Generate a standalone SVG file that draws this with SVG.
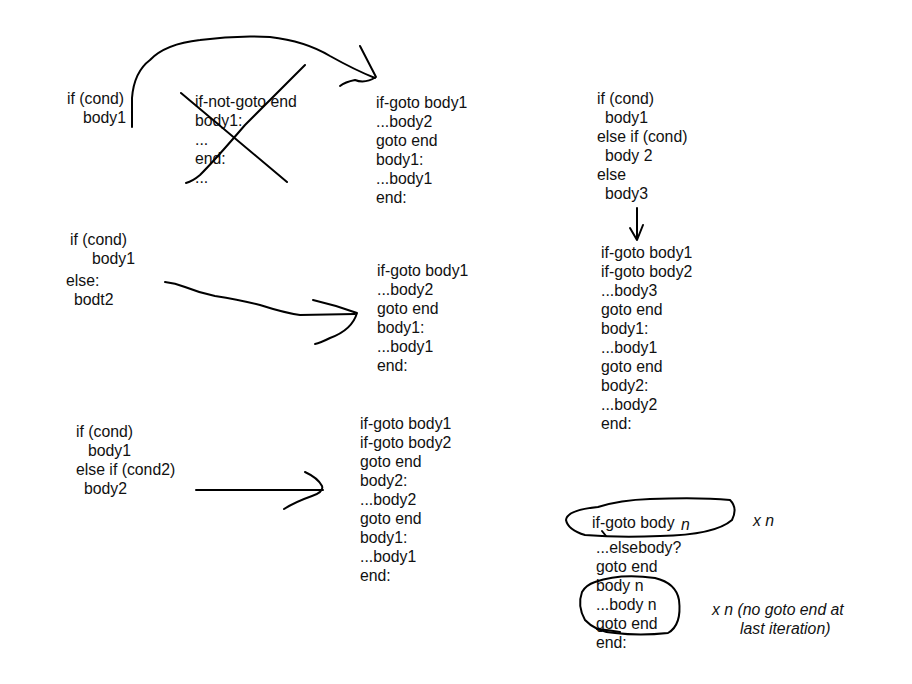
<svg xmlns="http://www.w3.org/2000/svg" width="912" height="684" viewBox="0 0 912 684">
<style>
text{font-family:"Liberation Sans",Arial,sans-serif;font-size:15.8px;fill:#111}
.i{font-style:italic}
.s{fill:none;stroke:#000;stroke-width:2;stroke-linecap:round;stroke-linejoin:round}
</style>
<rect width="912" height="684" fill="#fff"/>
<g id="n1"><text x="67" y="104">if (cond)</text><text x="83" y="123">body1</text></g>
<g id="n2"><text x="195" y="107">if-not-goto end</text><text x="195" y="126">body1:</text><text x="195" y="145">...</text><text x="195" y="164">end:</text><text x="195" y="183">...</text></g>
<g id="n3"><text x="376" y="108">if-goto body1</text><text x="376" y="127">...body2</text><text x="376" y="146">goto end</text><text x="376" y="165">body1:</text><text x="376" y="184">...body1</text><text x="376" y="203">end:</text></g>
<g id="n4"><text x="597" y="104">if (cond)</text><text x="605" y="123">body1</text><text x="597" y="142">else if (cond)</text><text x="605" y="161">body 2</text><text x="597" y="180">else</text><text x="605" y="199">body3</text></g>
<g id="n5"><text x="601" y="258">if-goto body1</text><text x="601" y="277">if-goto body2</text><text x="601" y="296">...body3</text><text x="601" y="315">goto end</text><text x="601" y="334">body1:</text><text x="601" y="353">...body1</text><text x="601" y="372">goto end</text><text x="601" y="391">body2:</text><text x="601" y="410">...body2</text><text x="601" y="429">end:</text></g>
<g id="n6"><text x="70" y="245">if (cond)</text><text x="92" y="264">body1</text><text x="66" y="286">else:</text><text x="74" y="305">bodt2</text></g>
<g id="n7"><text x="377" y="276">if-goto body1</text><text x="377" y="295">...body2</text><text x="377" y="314">goto end</text><text x="377" y="333">body1:</text><text x="377" y="352">...body1</text><text x="377" y="371">end:</text></g>
<g id="n8"><text x="76" y="437">if (cond)</text><text x="88" y="456">body1</text><text x="76" y="475">else if (cond2)</text><text x="84" y="494">body2</text></g>
<g id="n9"><text x="360" y="429">if-goto body1</text><text x="360" y="448">if-goto body2</text><text x="360" y="467">goto end</text><text x="360" y="486">body2:</text><text x="360" y="505">...body2</text><text x="360" y="524">goto end</text><text x="360" y="543">body1:</text><text x="360" y="562">...body1</text><text x="360" y="581">end:</text></g>
<g id="n10"><text x="592" y="528">if-goto body</text><text class="i" x="681" y="530">n</text><text class="i" x="753" y="526">x n</text><text x="596" y="553">...elsebody?</text><text x="596" y="572">goto end</text><text x="596" y="591">body n</text><text x="596" y="610">...body n</text><text x="596" y="629">goto end</text><text x="596" y="648">end:</text><text class="i" x="712" y="615">x n (no goto end at</text><text class="i" x="740" y="634">last iteration)</text></g>
<g id="connectors" class="s">
<path d="M132,127 L132,98 Q134,72 150,60 Q165,44 200,40 Q235,35 270,37 Q305,41 330,56 Q355,70 375,78"/>
<path d="M360,46 L376,77 Q365,84 355,80 Q345,82 340,86"/>
<path d="M181,93 L287,182"/>
<path d="M305,65 Q270,100 245,125 Q215,160 200,175 Q193,181 186,183"/>
<path d="M165,282 Q175,283 185,287 Q200,293 215,296 Q240,300 260,305 Q285,313 300,315 L355,314"/>
<path d="M313,300 Q335,305 357,313 Q352,330 330,338 Q320,343 315,344"/>
<path d="M196,490 L323,490"/>
<path d="M305,472 Q318,478 322,486 Q324,492 312,496 Q295,502 284,509"/>
<path d="M637,208 L637,240 M630,228 L637,240 L643,225"/>
<path d="M598,507 Q620,500 650,499 Q700,497 730,500 Q738,508 732,520 Q715,535 660,536 Q620,538 585,535 Q568,530 566,520 Q567,510 598,507 Z"/>
<path d="M602,531 L606,536"/>
<path d="M595,582 Q620,573 655,578 Q676,583 679,600 Q682,625 668,633 Q640,636 615,633 Q596,632 585,620 Q577,606 582,592 Q586,585 595,582"/>
<path d="M597,629 Q608,630 620,632"/>
</g>
</svg>
